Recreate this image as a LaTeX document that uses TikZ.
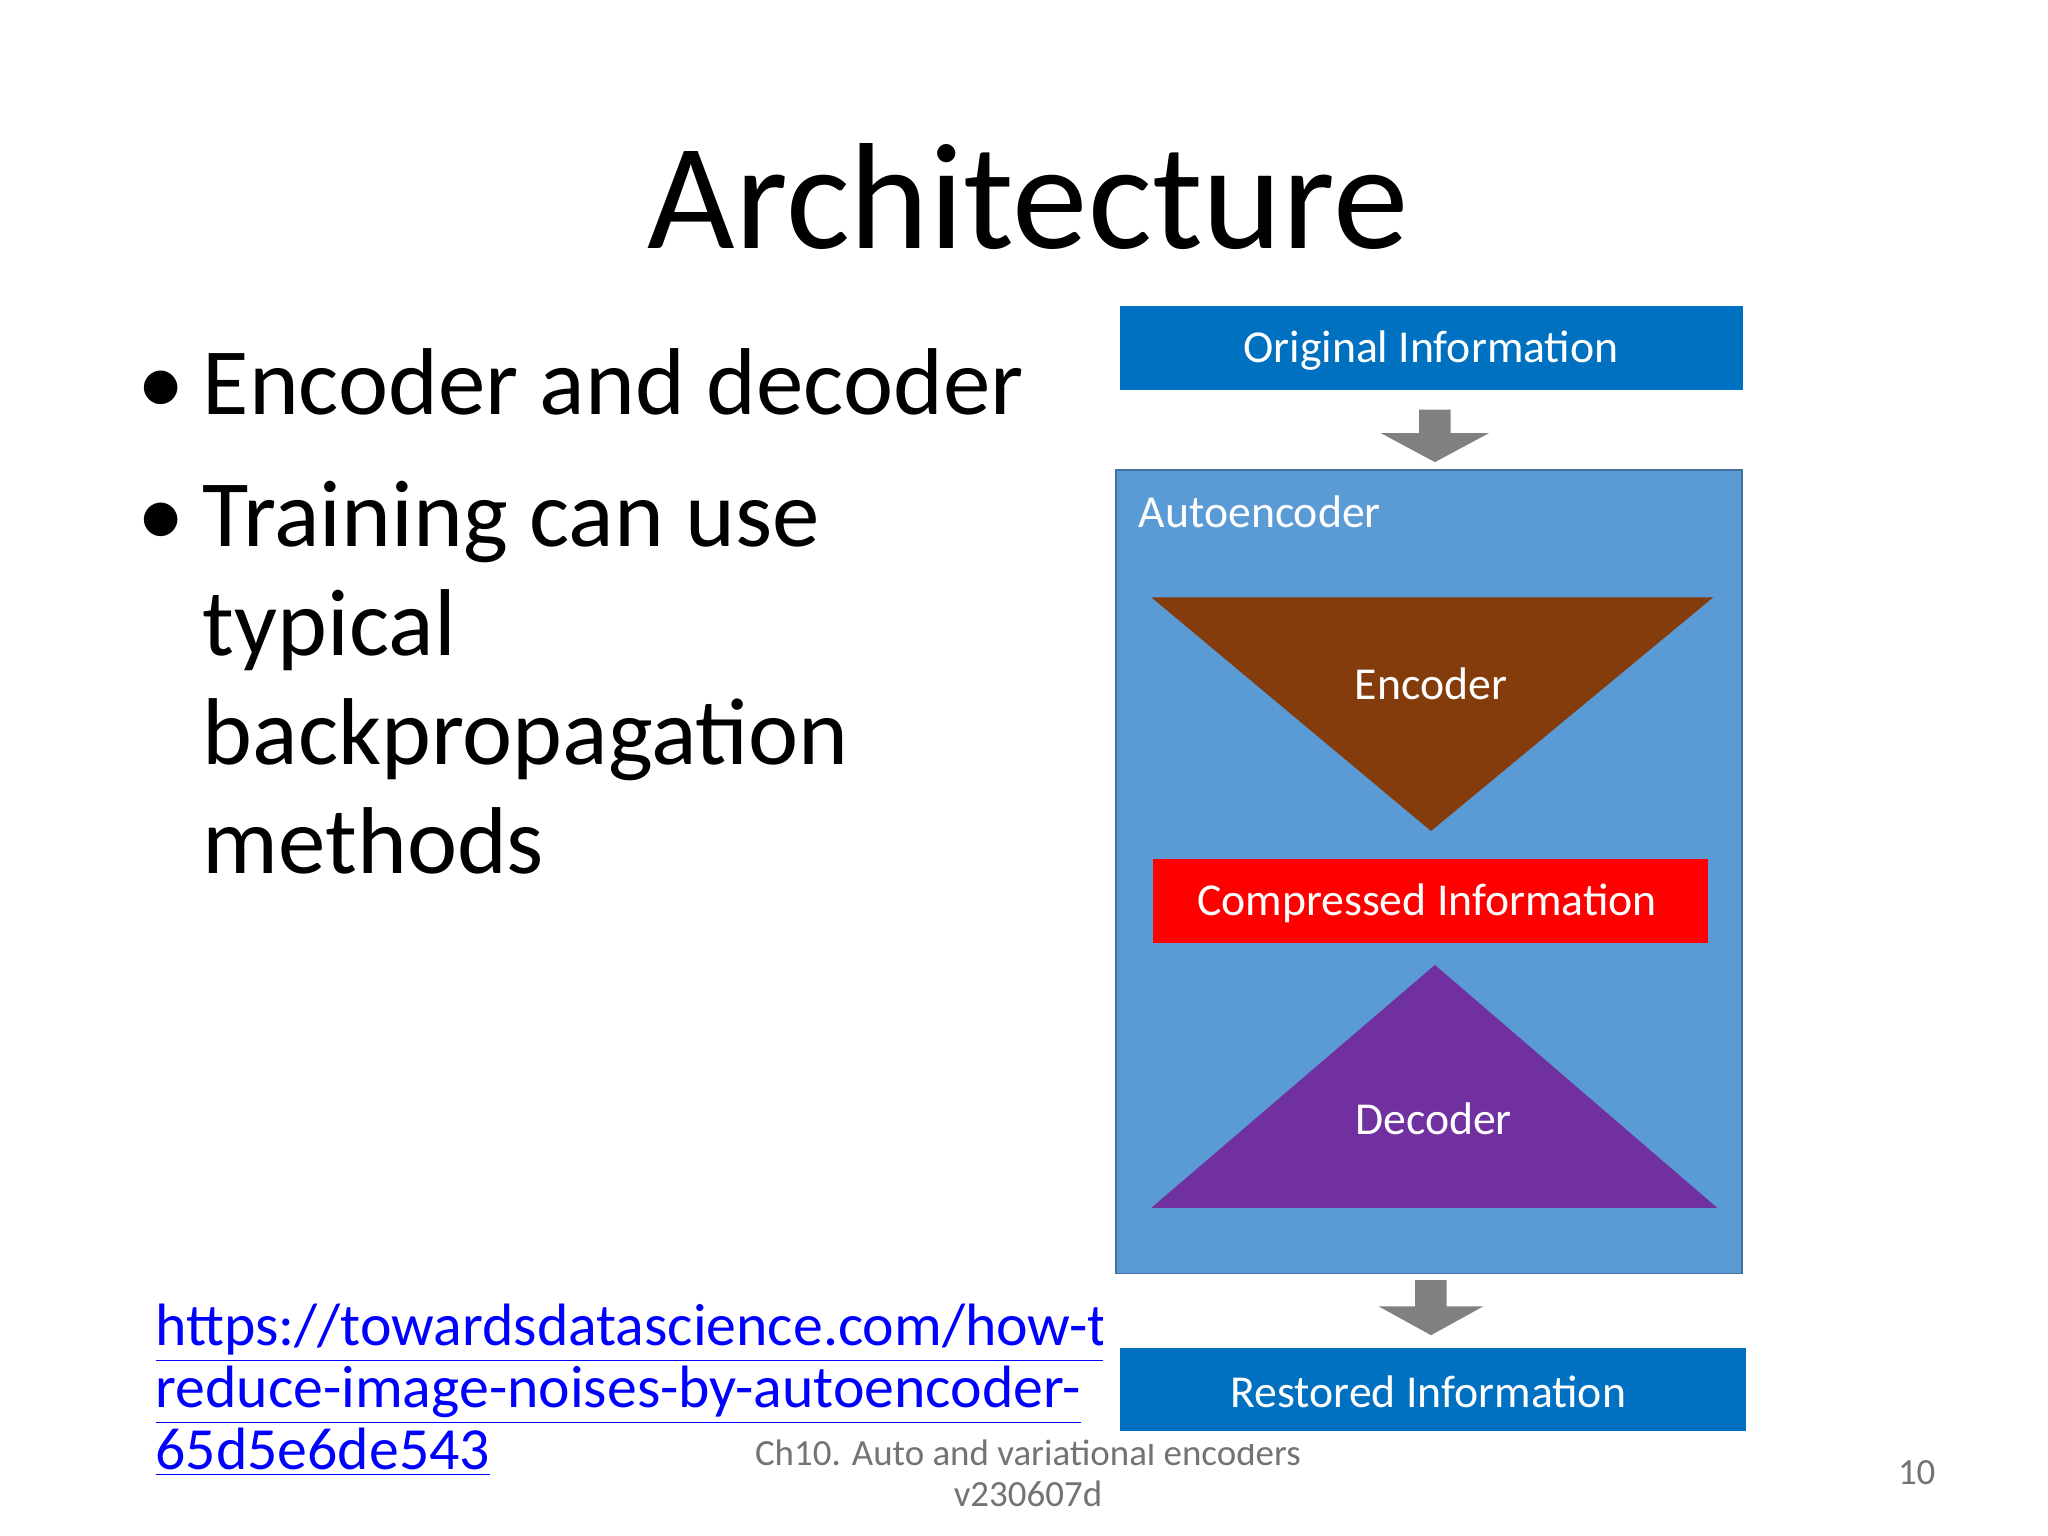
\documentclass[tikz,border=0pt]{standalone}
\usepackage{fontspec}
\setmainfont{Carlito}
\begin{document}
\begin{tikzpicture}[x=0.013128cm,y=-0.013128cm,
  lbl/.style={text=white,font=\fontsize{13}{15}\selectfont},
  garrow/.style={fill=black!50,draw=none}]
\useasboundingbox (0,0) rectangle (1560,1170);
\fill[white] (0,0) rectangle (1560,1170);
\node (title) at (783,150) {\fontsize{43}{50}\selectfont Architecture};
\begin{scope}[font=\fontsize{27}{31}\selectfont]
\node[anchor=base west] (b1) at (95,316) {\textbullet};
\node[anchor=base west] (t1) at (145,316) {Encoder and decoder};
\node[anchor=base west] (b2) at (95,416) {\textbullet};
\node[anchor=base west] (t2) at (145,416) {Training can use};
\node[anchor=base west] (t3) at (145,499) {typical};
\node[anchor=base west] (t4) at (145,582) {backpropagation};
\node[anchor=base west] (t5) at (145,665) {methods};
\end{scope}
\begin{scope}[font=\fontsize{17}{20}\selectfont,text=blue]
\node[anchor=base west] (u1) at (109,1025) {\underline{https://towardsdatascience.com/how-to-}};
\node[anchor=base west] (u2) at (109,1072) {\underline{reduce-image-noises-by-autoencoder-}};
\node[anchor=base west] (u3) at (109,1119) {\underline{65d5e6de543}};
\end{scope}
\node[text=black!55,font=\fontsize{10.5}{12}\selectfont] (f1) at (783,1107) {Ch10. Auto and variational encoders};
\node[text=black!55,font=\fontsize{10.5}{12}\selectfont] (f2) at (783,1138) {v230607d};
\node[text=black!55,font=\fontsize{10.5}{12}\selectfont] (pg) at (1460,1122) {10};
% diagram
\fill[white] (840,225) rectangle (1340,1100);
\fill[fill={rgb,255:red,0;green,112;blue,192}] (853,233) rectangle (1328,297);
\node[lbl] (orig) at (1090,267) {Original Information};
\fill[garrow] (1081,312) -- (1105,312) -- (1105,330) -- (1134,330) -- (1093,352) -- (1052,330) -- (1081,330) -- cycle;
\filldraw[fill={rgb,255:red,91;green,155;blue,213},draw={rgb,255:red,65;green,113;blue,156}] (850,358) rectangle (1327,970);
\node[lbl,anchor=west] (ae) at (858,390) {Autoencoder};
\fill[fill={rgb,255:red,132;green,60;blue,12}] (877,455) -- (1305,455) -- (1090,633) -- cycle;
\node[lbl] (enc) at (1090,521) {Encoder};
\fill[red] (878,654) rectangle (1301,718);
\node[lbl] (comp) at (1087,688) {Compressed Information};
\fill[fill={rgb,255:red,112;green,48;blue,160}] (877,920) -- (1308,920) -- (1093,735) -- cycle;
\node[lbl] (dec) at (1092,852) {Decoder};
\fill[garrow] (1078,975) -- (1102,975) -- (1102,995) -- (1130,995) -- (1090,1017) -- (1050,995) -- (1078,995) -- cycle;
\fill[fill={rgb,255:red,0;green,112;blue,192}] (853,1027) rectangle (1330,1090);
\node[lbl] (rest) at (1088,1060) {Restored Information};
\end{tikzpicture}
\end{document}
